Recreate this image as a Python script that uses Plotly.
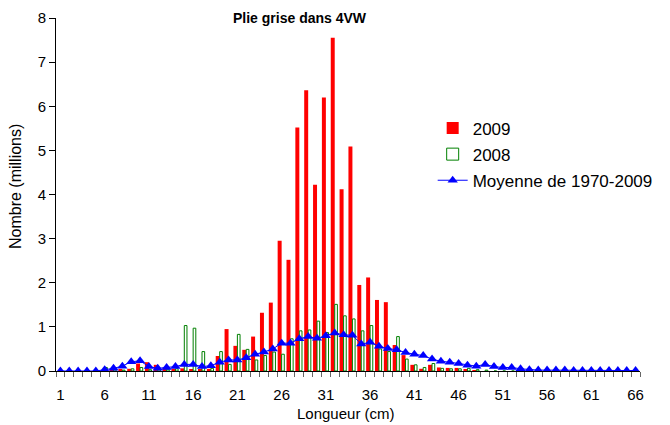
import plotly.graph_objects as go

# Longueur (cm) 1..66
longueur = list(range(1, 67))

# Nombre (millions)
nb_2009 = [0, 0, 0, 0, 0, 0, 0.02, 0.03, 0.05, 0.17,
           0.2, 0.14, 0.08, 0.05, 0.06, 0.03, 0.03, 0.05, 0.34, 0.95,
           0.57, 0.48, 0.78, 1.32, 1.55, 2.95, 2.52, 5.52, 6.36, 4.22,
           6.2, 7.55, 4.12, 5.09, 1.95, 2.12, 1.61, 1.56, 0.59, 0.36,
           0.14, 0.05, 0.14, 0.08, 0.07, 0.07, 0.03, 0.02, 0, 0,
           0, 0, 0, 0, 0, 0, 0, 0, 0, 0,
           0, 0, 0, 0, 0, 0]

nb_2008 = [0, 0, 0, 0, 0, 0.08, 0.03, 0.02, 0.05, 0.08,
           0.03, 0.03, 0.04, 0.05, 1.03, 0.97, 0.44, 0.06, 0.44, 0.15,
           0.83, 0.49, 0.25, 0.35, 0.43, 0.38, 0.73, 0.91, 0.93, 1.13,
           0.87, 1.51, 1.25, 1.18, 0.91, 1.03, 0.5, 0.44, 0.78, 0.27,
           0.14, 0.08, 0.17, 0.06, 0.05, 0.05, 0.06, 0.03, 0.02, 0,
           0, 0, 0, 0, 0, 0, 0, 0, 0, 0,
           0, 0, 0, 0, 0, 0]

moyenne = [0, 0, 0, 0, 0, 0.03, 0.06, 0.11, 0.21, 0.23,
           0.1, 0.06, 0.08, 0.1, 0.15, 0.15, 0.1, 0.12, 0.2, 0.25,
           0.25, 0.3, 0.38, 0.43, 0.5, 0.63, 0.63, 0.73, 0.78, 0.74,
           0.8, 0.86, 0.82, 0.81, 0.61, 0.65, 0.56, 0.51, 0.48, 0.42,
           0.38, 0.35, 0.27, 0.22, 0.2, 0.17, 0.13, 0.11, 0.15, 0.1,
           0.08, 0.08, 0.05, 0.03, 0.02, 0.02, 0.02, 0.02, 0.01, 0.01,
           0.01, 0.01, 0.01, 0.01, 0.01, 0.01]

x_labels = list(range(1, 67, 5))
boundaries = [v + 0.5 for v in range(0, 67)]

FONT = "Liberation Sans, Arial, sans-serif"

fig = go.Figure()
fig.add_trace(go.Bar(x=longueur, y=nb_2009, name="2009", width=0.45, offset=-0.45,
                     marker=dict(color="#FF0000", line=dict(width=0)),
                     legendgroup="a"))
fig.add_trace(go.Bar(x=longueur, y=nb_2008, name="2008", width=0.3, offset=0.0,
                     marker=dict(color="white", line=dict(color="#008000", width=1)),
                     legendgroup="b"))
fig.add_trace(go.Scatter(x=longueur, y=moyenne, name="Moyenne de 1970-2009", mode="lines+markers",
                         line=dict(color="#0000FF", width=1),
                         marker=dict(symbol="triangle-up", size=9, color="#0000FF"),
                         legendgroup="c"))

# the page body adds an 8px offset, so the margins are shifted by 8px
fig.update_layout(
    width=670, height=425,
    margin=dict(l=48, r=38, t=10, b=62, autoexpand=False),
    paper_bgcolor="white", plot_bgcolor="white",
    font=dict(family=FONT, size=15, color="black"),
    barmode="overlay",
    legend=dict(x=0.645, y=0.738, xanchor="left", yanchor="top",
                font=dict(size=17), tracegroupgap=1, bgcolor="rgba(0,0,0,0)"),
    showlegend=True,
    xaxis=dict(
        range=[0.5, 66.5], tickmode="array", tickvals=x_labels,
        ticks="", ticklabelstandoff=10, showgrid=False, zeroline=False,
        showline=True, linecolor="black", linewidth=1, automargin=False,
        minor=dict(tickmode="array", tickvals=boundaries, ticks="outside",
                   ticklen=5, tickcolor="#666666", tickwidth=1, showgrid=False),
    ),
    # overlay axis only draws the inner half of the crossing x ticks
    xaxis2=dict(
        overlaying="x", anchor="y", side="bottom", range=[0.5, 66.5],
        showticklabels=False, showline=False, showgrid=False, zeroline=False,
        ticks="", tickmode="array", tickvals=x_labels, automargin=False,
        minor=dict(tickmode="array", tickvals=boundaries, ticks="inside",
                   ticklen=5, tickcolor="#666666", tickwidth=1, showgrid=False),
    ),
    yaxis=dict(
        range=[0, 8], tickmode="array", tickvals=list(range(0, 9)),
        ticks="outside", ticklen=6, tickcolor="black", showgrid=False, zeroline=False,
        showline=True, linecolor="black", linewidth=1, automargin=False,
    ),
)

# titles placed as annotations so their positions can match the reference
fig.add_annotation(text="<b>Plie grise dans 4VW</b>", xref="paper", yref="paper",
                   x=(300 - 56) / 584, y=1.0, xanchor="center", yanchor="middle",
                   showarrow=False, font=dict(size=14))
fig.add_annotation(text="Longueur (cm)", xref="paper", yref="paper",
                   x=(346 - 56) / 584, y=-(413 - 371) / 353, xanchor="center", yanchor="middle",
                   showarrow=False, font=dict(size=15))
fig.add_annotation(text="Nombre (millions)", xref="paper", yref="paper",
                   x=-(56 - 15) / 584, y=(371 - 187) / 353, xanchor="center", yanchor="middle",
                   textangle=-90, showarrow=False, font=dict(size=16))

fig.write_html("out.html")
